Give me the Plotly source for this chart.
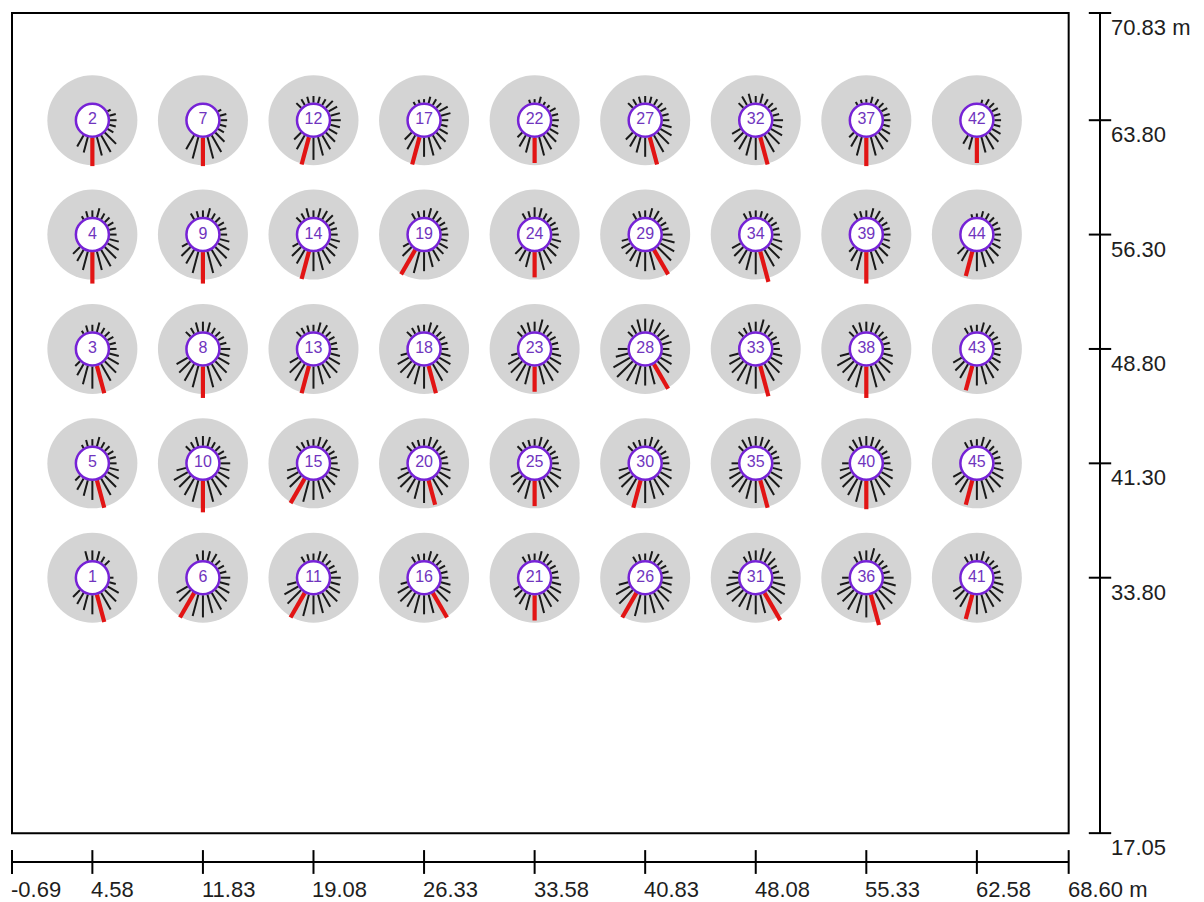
import math
import plotly.graph_objects as go

# ---------------- data ----------------
X_TICKS = [-0.69, 4.58, 11.83, 19.08, 26.33, 33.58, 40.83, 48.08, 55.33, 62.58, 68.60]
X_TICK_TEXT = ["-0.69", "4.58", "11.83", "19.08", "26.33", "33.58", "40.83",
               "48.08", "55.33", "62.58", "68.60 m"]
Y_TICKS = [17.05, 33.80, 41.30, 48.80, 56.30, 63.80, 70.83]
Y_TICK_TEXT = ["17.05", "33.80", "41.30", "48.80", "56.30", "63.80", "70.83 m"]

COL_X = [4.58, 11.83, 19.08, 26.33, 33.58, 40.83, 48.08, 55.33, 62.58]
ROW_Y = [63.80, 56.30, 48.80, 41.30, 33.80]
ROW_1_IDS = [2, 7, 12, 17, 22, 27, 32, 37, 42]
ROW_2_IDS = [4, 9, 14, 19, 24, 29, 34, 39, 44]
ROW_3_IDS = [3, 8, 13, 18, 23, 28, 33, 38, 43]
ROW_4_IDS = [5, 10, 15, 20, 25, 30, 35, 40, 45]
ROW_5_IDS = [1, 6, 11, 16, 21, 26, 31, 36, 41]

# direction sectors (degrees clockwise from north)
DIRECTIONS = [0, 15, 30, 45, 60, 75, 90, 105, 120, 135, 150, 165,
              180, 195, 210, 225, 240, 255, 270, 285, 300, 315, 330, 345]

# relative frequency per sector for every station
ROSE_01 = [3, 3, 2, 2, 0, 0, 1, 2, 4, 5, 6, 9, 6, 5, 4, 3, 0, 0, 0, 0, 0, 0, 0, 3]
ROSE_02 = [0, 0, 0, 0, 1, 2, 2, 2, 2, 5, 6, 6, 9, 5, 4, 0, 0, 0, 0, 0, 0, 0, 0, 0]
ROSE_03 = [2, 3, 2, 2, 2, 2, 2, 3, 4, 5, 6, 9, 7, 6, 4, 2, 0, 0, 0, 0, 0, 0, 1, 2]
ROSE_04 = [2, 3, 2, 2, 2, 2, 2, 3, 4, 5, 6, 6, 10, 6, 4, 3, 0, 0, 0, 0, 0, 0, 1, 2]
ROSE_05 = [2, 3, 2, 2, 2, 2, 2, 3, 4, 5, 6, 9, 6, 5, 4, 2, 0, 0, 0, 0, 0, 0, 1, 2]
ROSE_06 = [3, 3, 3, 2, 2, 2, 3, 3, 4, 5, 6, 6, 7, 7, 9, 5, 4, 0, 0, 0, 0, 0, 0, 2]
ROSE_07 = [0, 0, 0, 0, 1, 2, 2, 2, 2, 4, 6, 7, 9, 7, 5, 0, 0, 0, 0, 0, 0, 0, 0, 0]
ROSE_08 = [3, 3, 2, 2, 2, 2, 3, 3, 4, 5, 6, 7, 10, 7, 6, 5, 4, 0, 0, 0, 0, 2, 2, 3]
ROSE_09 = [2, 3, 2, 2, 2, 2, 2, 3, 4, 5, 6, 7, 10, 7, 5, 4, 2, 0, 0, 0, 0, 0, 2, 2]
ROSE_10 = [3, 3, 2, 2, 2, 2, 3, 3, 4, 5, 6, 7, 10, 7, 6, 5, 5, 3, 0, 0, 0, 2, 2, 3]
ROSE_11 = [2, 3, 3, 2, 2, 2, 3, 3, 4, 5, 5, 6, 6, 7, 9, 6, 5, 3, 0, 0, 0, 0, 2, 2]
ROSE_12 = [2, 2, 2, 3, 3, 3, 3, 3, 3, 4, 5, 6, 7, 9, 5, 3, 0, 0, 0, 0, 0, 2, 2, 2]
ROSE_13 = [2, 3, 3, 2, 2, 2, 2, 3, 4, 5, 5, 6, 7, 9, 6, 5, 3, 0, 0, 0, 0, 2, 2, 2]
ROSE_14 = [2, 3, 3, 3, 2, 2, 2, 3, 3, 4, 5, 6, 6, 9, 5, 4, 2, 0, 0, 0, 0, 2, 2, 3]
ROSE_15 = [2, 3, 3, 2, 2, 2, 2, 3, 3, 4, 5, 6, 6, 7, 9, 5, 4, 3, 0, 0, 0, 2, 2, 2]
ROSE_16 = [2, 3, 3, 2, 2, 2, 2, 3, 4, 5, 9, 6, 6, 6, 5, 5, 4, 2, 0, 0, 0, 0, 2, 2]
ROSE_17 = [1, 2, 2, 2, 3, 3, 2, 2, 3, 4, 5, 6, 6, 9, 5, 3, 0, 0, 0, 0, 0, 0, 1, 1]
ROSE_18 = [2, 3, 3, 2, 2, 2, 2, 3, 4, 5, 6, 9, 7, 6, 5, 5, 4, 2, 0, 0, 0, 2, 2, 2]
ROSE_19 = [2, 3, 3, 2, 2, 2, 2, 2, 3, 3, 4, 5, 6, 7, 9, 4, 2, 0, 0, 0, 0, 0, 2, 2]
ROSE_20 = [2, 3, 3, 2, 2, 2, 2, 3, 4, 5, 6, 8, 7, 6, 5, 5, 4, 2, 0, 0, 0, 2, 2, 2]
ROSE_21 = [2, 3, 3, 2, 2, 2, 2, 3, 4, 5, 5, 6, 8, 5, 4, 3, 2, 0, 0, 0, 0, 0, 2, 2]
ROSE_22 = [1, 2, 1, 1, 2, 2, 2, 2, 3, 4, 5, 6, 8, 5, 4, 2, 0, 0, 0, 0, 0, 0, 0, 1]
ROSE_23 = [3, 4, 3, 2, 2, 2, 2, 3, 4, 5, 6, 6, 8, 6, 6, 5, 4, 2, 0, 0, 0, 2, 3, 3]
ROSE_24 = [3, 3, 2, 2, 2, 2, 2, 3, 3, 4, 5, 6, 8, 5, 4, 3, 0, 0, 0, 0, 0, 0, 2, 2]
ROSE_25 = [2, 3, 3, 2, 2, 2, 2, 3, 4, 5, 5, 6, 8, 6, 5, 4, 3, 0, 0, 0, 0, 2, 2, 2]
ROSE_26 = [2, 3, 3, 2, 2, 2, 3, 3, 4, 5, 6, 6, 6, 7, 9, 6, 5, 3, 0, 0, 0, 0, 2, 2]
ROSE_27 = [2, 2, 2, 2, 2, 2, 2, 3, 4, 5, 6, 9, 6, 5, 4, 3, 0, 0, 0, 0, 0, 2, 2, 2]
ROSE_28 = [4, 4, 4, 3, 3, 3, 2, 3, 4, 5, 9, 6, 6, 6, 6, 7, 6, 4, 3, 0, 0, 2, 3, 4]
ROSE_29 = [2, 3, 3, 2, 2, 2, 3, 4, 5, 6, 9, 6, 6, 5, 4, 3, 3, 2, 0, 0, 0, 0, 2, 2]
ROSE_30 = [2, 3, 3, 2, 2, 2, 2, 3, 4, 5, 6, 6, 7, 9, 6, 5, 4, 3, 0, 0, 0, 2, 2, 2]
ROSE_31 = [3, 4, 4, 3, 2, 2, 3, 4, 5, 6, 10, 6, 6, 5, 5, 5, 5, 4, 3, 2, 0, 0, 2, 3]
ROSE_32 = [2, 3, 2, 2, 2, 2, 3, 3, 4, 5, 6, 9, 7, 6, 5, 4, 3, 0, 0, 0, 0, 2, 3, 3]
ROSE_33 = [3, 4, 3, 2, 2, 2, 2, 3, 4, 5, 6, 10, 7, 6, 6, 5, 4, 3, 0, 0, 0, 2, 2, 3]
ROSE_34 = [2, 2, 2, 2, 2, 2, 2, 3, 4, 5, 6, 10, 7, 6, 5, 4, 3, 0, 0, 0, 0, 0, 2, 2]
ROSE_35 = [3, 3, 3, 2, 2, 2, 2, 3, 4, 5, 6, 9, 7, 6, 5, 5, 4, 3, 2, 0, 0, 2, 3, 3]
ROSE_36 = [3, 4, 3, 2, 2, 2, 3, 4, 5, 6, 6, 10, 7, 6, 6, 5, 5, 3, 2, 0, 0, 0, 2, 3]
ROSE_37 = [1, 2, 2, 2, 2, 2, 2, 2, 3, 4, 5, 6, 9, 6, 4, 2, 0, 0, 0, 0, 0, 0, 1, 1]
ROSE_38 = [3, 3, 3, 2, 2, 2, 2, 3, 4, 5, 6, 7, 10, 7, 6, 5, 5, 3, 0, 0, 0, 2, 3, 3]
ROSE_39 = [2, 3, 3, 2, 2, 2, 2, 2, 3, 4, 5, 6, 10, 6, 4, 2, 0, 0, 0, 0, 0, 0, 2, 2]
ROSE_40 = [3, 3, 3, 2, 2, 2, 2, 3, 4, 5, 6, 7, 9, 7, 6, 5, 4, 3, 2, 0, 0, 2, 3, 3]
ROSE_41 = [2, 3, 2, 2, 2, 2, 2, 3, 4, 5, 5, 6, 6, 8, 5, 4, 3, 0, 0, 0, 0, 0, 2, 2]
ROSE_42 = [0, 1, 2, 2, 2, 2, 2, 2, 3, 4, 5, 5, 8, 4, 3, 0, 0, 0, 0, 0, 0, 0, 0, 0]
ROSE_43 = [2, 3, 3, 2, 2, 2, 2, 2, 3, 4, 5, 6, 6, 8, 5, 4, 3, 0, 0, 0, 0, 0, 2, 2]
ROSE_44 = [1, 2, 2, 2, 2, 2, 2, 2, 3, 4, 5, 5, 6, 8, 4, 3, 0, 0, 0, 0, 0, 0, 0, 1]
ROSE_45 = [2, 3, 3, 2, 2, 2, 2, 3, 4, 5, 5, 6, 6, 8, 5, 4, 3, 0, 0, 0, 0, 0, 2, 2]

ROSES = {
    1: ROSE_01, 2: ROSE_02, 3: ROSE_03, 4: ROSE_04, 5: ROSE_05, 6: ROSE_06,
    7: ROSE_07, 8: ROSE_08, 9: ROSE_09, 10: ROSE_10, 11: ROSE_11, 12: ROSE_12,
    13: ROSE_13, 14: ROSE_14, 15: ROSE_15, 16: ROSE_16, 17: ROSE_17, 18: ROSE_18,
    19: ROSE_19, 20: ROSE_20, 21: ROSE_21, 22: ROSE_22, 23: ROSE_23, 24: ROSE_24,
    25: ROSE_25, 26: ROSE_26, 27: ROSE_27, 28: ROSE_28, 29: ROSE_29, 30: ROSE_30,
    31: ROSE_31, 32: ROSE_32, 33: ROSE_33, 34: ROSE_34, 35: ROSE_35, 36: ROSE_36,
    37: ROSE_37, 38: ROSE_38, 39: ROSE_39, 40: ROSE_40, 41: ROSE_41, 42: ROSE_42,
    43: ROSE_43, 44: ROSE_44, 45: ROSE_45,
}
ROW_IDS = [ROW_1_IDS, ROW_2_IDS, ROW_3_IDS, ROW_4_IDS, ROW_5_IDS]

# ---------------- geometry / style ----------------
BODY = 8                        # browser default page margin
W, H = 1204 - BODY, 902 - BODY
PX = 15.25                      # pixels per metre (both axes)
# screen positions (px) in the 1204x902 window, converted to figure coords
FRAME_LEFT_PX, FRAME_TOP_PX = 12 - BODY, 13 - BODY
PLOT_L, PLOT_R, PLOT_T, PLOT_B = 0, 1112 - BODY, 0, 870 - BODY
XAXIS_PX, YAXIS_PX = 862 - BODY, 1100 - BODY   # bottom-axis row, right-axis column

x_lo = X_TICKS[0] - (FRAME_LEFT_PX - PLOT_L) / PX
x_hi = x_lo + (PLOT_R - PLOT_L) / PX
y_hi = Y_TICKS[-1] + (FRAME_TOP_PX - PLOT_T) / PX
y_lo = y_hi - (PLOT_B - PLOT_T) / PX
frame_bottom_px = FRAME_TOP_PX + (Y_TICKS[-1] - Y_TICKS[0]) * PX
frame_right_px = FRAME_LEFT_PX + (X_TICKS[-1] - X_TICKS[0]) * PX
axis_y = Y_TICKS[0] - (XAXIS_PX - frame_bottom_px) / PX
axis_x = X_TICKS[-1] + (YAXIS_PX - frame_right_px) / PX

R_INNER = 18 / PX      # radius of the white station circle (m)
UNIT = 3.1 / PX        # length of one frequency unit (m)

GREY = "rgb(212,212,212)"
PURPLE = "rgb(118,34,214)"
PURPLE_TXT = "rgb(112,52,190)"
RED = "rgb(226,20,20)"
FONT = "Liberation Sans, Arial"

cx, cy, labels = [], [], []
bx, by, rx, ry = [], [], [], []
for r, ids in enumerate(ROW_IDS):
    for c, sid in enumerate(ids):
        x0, y0 = COL_X[c], ROW_Y[r]
        cx.append(x0)
        cy.append(y0)
        labels.append(str(sid))
        vals = ROSES[sid]
        imax = vals.index(max(vals))
        for i, (ang, v) in enumerate(zip(DIRECTIONS, vals)):
            if v <= 0:
                continue
            a = math.radians(ang)
            dx, dy = math.sin(a), math.cos(a)
            r0 = R_INNER - 0.5 / PX
            r1 = R_INNER + v * UNIT
            xs = [x0 + dx * r0, x0 + dx * r1, None]
            ys = [y0 + dy * r0, y0 + dy * r1, None]
            if i == imax:
                rx += xs
                ry += ys
            else:
                bx += xs
                by += ys

fig = go.Figure()
fig.add_trace(go.Scatter(x=cx, y=cy, mode="markers",
                         marker=dict(size=90, color=GREY, line=dict(width=0)),
                         hoverinfo="skip"))
fig.add_trace(go.Scatter(x=bx, y=by, mode="lines",
                         line=dict(color="rgb(25,25,25)", width=2),
                         hoverinfo="skip"))
fig.add_trace(go.Scatter(x=rx, y=ry, mode="lines",
                         line=dict(color=RED, width=4.2),
                         hoverinfo="skip"))
fig.add_trace(go.Scatter(x=cx, y=cy, mode="markers+text", text=labels,
                         textposition="middle center",
                         textfont=dict(family=FONT, size=16, color=PURPLE_TXT),
                         marker=dict(size=33, color="white", line=dict(width=2.5, color=PURPLE)),
                         hoverinfo="skip"))

# axes drawn as data-space decorations
fig.add_trace(go.Scatter(x=[X_TICKS[0], X_TICKS[-1]], y=[axis_y, axis_y], mode="lines",
                         line=dict(color="black", width=2), hoverinfo="skip"))
fig.add_trace(go.Scatter(x=X_TICKS, y=[axis_y] * len(X_TICKS), mode="markers",
                         marker=dict(symbol="line-ns", size=17, line=dict(width=2, color="black")),
                         cliponaxis=False, hoverinfo="skip"))
fig.add_trace(go.Scatter(x=[axis_x, axis_x], y=[Y_TICKS[0], Y_TICKS[-1]], mode="lines",
                         line=dict(color="black", width=2), hoverinfo="skip"))
fig.add_trace(go.Scatter(x=[axis_x] * len(Y_TICKS), y=Y_TICKS, mode="markers",
                         marker=dict(symbol="line-ew", size=16, line=dict(width=2, color="black")),
                         cliponaxis=False, hoverinfo="skip"))

fig.add_shape(type="rect", xref="x", yref="y",
              x0=X_TICKS[0], x1=X_TICKS[-1], y0=Y_TICKS[0], y1=Y_TICKS[-1],
              line=dict(color="black", width=2), layer="above")

ann = []
for v, t in zip(X_TICKS, X_TICK_TEXT):
    ann.append(dict(x=v, y=axis_y, xref="x", yref="y", text=t, showarrow=False,
                    xanchor="left", yanchor="top", xshift=-3, yshift=-13,
                    font=dict(family=FONT, size=22, color="rgb(30,30,30)")))
for v, t in zip(Y_TICKS, Y_TICK_TEXT):
    ann.append(dict(x=axis_x, y=v, xref="x", yref="y", text=t, showarrow=False,
                    xanchor="left", yanchor="top", xshift=9, yshift=0,
                    font=dict(family=FONT, size=22, color="rgb(30,30,30)")))

fig.update_layout(
    width=W, height=H,
    margin=dict(l=PLOT_L, r=W - PLOT_R, t=PLOT_T, b=H - PLOT_B, pad=0),
    paper_bgcolor="white", plot_bgcolor="white",
    showlegend=False,
    xaxis=dict(range=[x_lo, x_hi], visible=False, fixedrange=True),
    yaxis=dict(range=[y_lo, y_hi], visible=False, fixedrange=True),
    annotations=ann,
)

fig.write_html("out.html")
